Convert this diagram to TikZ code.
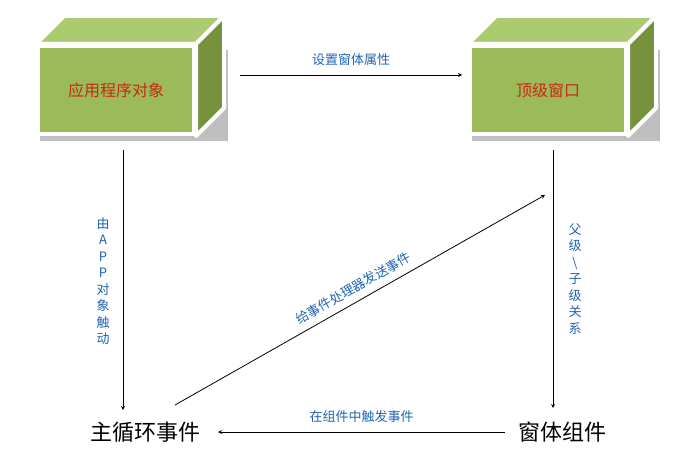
\documentclass[tikz,border=0pt]{standalone}
\usepackage{fontspec}
\setmainfont{Noto Sans CJK SC}
\usetikzlibrary{positioning,calc}
\definecolor{boxgreen}{RGB}{155,187,89}
\definecolor{boxtop}{RGB}{172,202,112}
\definecolor{boxside}{RGB}{118,146,60}
\definecolor{labelblue}{RGB}{31,100,178}
\definecolor{labelred}{RGB}{200,40,20}
\begin{document}
\begin{tikzpicture}[x=1pt,y=-1pt,
        objbox/.style={draw=white, line width=4pt, fill=boxgreen, minimum width=156pt, minimum height=88pt, inner sep=0pt, font=\fontsize{16}{16}\selectfont\color{labelred}},
        evtag/.style={font=\fontsize{22}{22}\selectfont},
        lbl/.style={font=\fontsize{13}{13}\selectfont\color{labelblue}},
        vlbl/.style={lbl, align=center, font=\fontsize{13}{16.5}\selectfont\color{labelblue}},
        flow/.style={->, >=stealth, line width=0.8pt}
      ]
      \useasboundingbox (0,0) rectangle (684,452);

      % 3d boxes
      \foreach \name/\cx/\txt in {App/116/应用程序对象, Top/548/顶级窗口} {
        \fill[black!25] (\cx-76,50) -- (\cx+112,50) -- (\cx+112,141) -- (\cx-76,141) -- cycle;
        \draw[white, line width=4pt, fill=boxtop, line join=round] (\cx-80,44) -- (\cx-52,16) -- (\cx+108,16) -- (\cx+80,44) -- cycle;
        \draw[white, line width=4pt, fill=boxside, line join=round] (\cx+80,44) -- (\cx+108,16) -- (\cx+108,108) -- (\cx+80,136) -- cycle;
        \node (\name) at (\cx,90) [objbox] {\txt};
      }

      \node (Loop) at (145,432) [evtag] {主循环事件};
      \node (Widget) at (562,432) [evtag] {窗体组件};

      \coordinate (A1) at (240,75);  \coordinate (A2) at (462,75);
      \coordinate (L1) at (123,150); \coordinate (L2) at (123,410);
      \coordinate (R1) at (553,150); \coordinate (R2) at (553,408);
      \coordinate (B1) at (505,432); \coordinate (B2) at (218,432);
      \coordinate (D1) at (175,405); \coordinate (D2) at (545,195);

      \draw[flow] (A1) -- node[lbl, above=6pt] {设置窗体属性} (A2);
      \draw[flow] (L1) -- (L2);
      \node at (103,281) [vlbl] {由\\A\\P\\P\\对\\象\\触\\动};
      \draw[flow] (R1) -- (R2);
      \node at (575,279) [vlbl] {父\\级\\\textbackslash\\子\\级\\关\\系};
      \draw[flow] (B1) -- node[lbl, above=6pt] {在组件中触发事件} (B2);
      \draw[flow] (D1) -- node[lbl, sloped, above=4pt] {给事件处理器发送事件} (D2);
    \end{tikzpicture}
\end{document}
